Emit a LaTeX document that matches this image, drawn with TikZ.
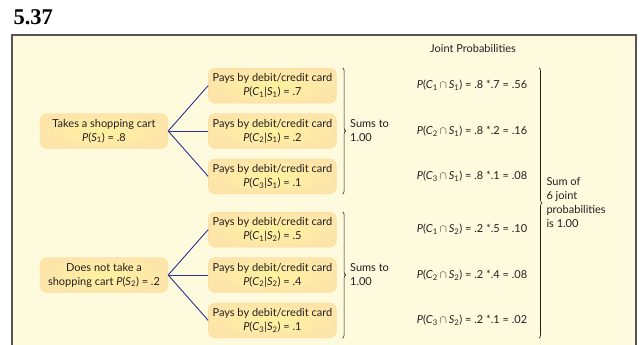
\documentclass[tikz,border=0pt]{standalone}
\usepackage{fontspec}
\setmainfont{Lato}
\newfontfamily\titlefont{Liberation Serif}
\usetikzlibrary{positioning, calc, decorations.pathreplacing}
\definecolor{panelfill}{RGB}{254,250,222}
\definecolor{panelline}{RGB}{85,85,85}
\definecolor{boxinner}{RGB}{255,242,158}
\definecolor{boxouter}{RGB}{253,229,170}
\definecolor{boxline}{RGB}{249,222,152}
\definecolor{branchblue}{RGB}{46,49,146}
\definecolor{inktext}{RGB}{35,31,32}
\newcommand{\pcond}[2]{\textit{P}(\textit{C}\textsubscript{#1}|\textit{S}\textsubscript{#2})}
\newcommand{\pjoint}[2]{\textit{P}(\textit{C}\textsubscript{#1}\,$\cap$\,\textit{S}\textsubscript{#2})}

\begin{document}
\begin{tikzpicture}[
		x=1pt, y=-1pt,
		font=\fontsize{11}{14}\selectfont, text=inktext,
		choicebox/.style={draw=boxline, rounded corners=7pt, shade, inner color=boxinner, outer color=boxouter, minimum width=128pt, minimum height=35pt, align=center, inner sep=2pt},
		branch/.style={draw=branchblue, line width=0.9pt},
		sumbrace/.style={draw=inktext, line width=0.6pt, decorate, decoration={brace, amplitude=3pt}},
		sumtext/.style={anchor=west, align=left},
		joint/.style={anchor=center}
	]
	\useasboundingbox (0,0) rectangle (642,345);
	\node[anchor=base west, font=\titlefont\bfseries\fontsize{22.5}{22.5}\selectfont, text=black] (title) at (10,25) {5.37};
	\filldraw[fill=panelfill, draw=panelline, line width=1.4pt] (12,35) rectangle (636,348);
	\node (head) at (473,48) {Joint Probabilities};
	% first stage
	\node[choicebox] (s1) at (104,131) {Takes a shopping cart\\\textit{P}(\textit{S}\textsubscript{1}) = .8};
	\node[choicebox] (s2) at (104,275) {Does not take a\\shopping cart \textit{P}(\textit{S}\textsubscript{2}) = .2};
	% second stage
	\node[choicebox, right=40pt of s1] (c21) {Pays by debit/credit card\\\pcond{2}{1} = .2};
	\node[choicebox, above=10pt of c21] (c11) {Pays by debit/credit card\\\pcond{1}{1} = .7};
	\node[choicebox, below=10pt of c21] (c31) {Pays by debit/credit card\\\pcond{3}{1} = .1};
	\node[choicebox, right=40pt of s2] (c22) {Pays by debit/credit card\\\pcond{2}{2} = .4};
	\node[choicebox, above=10pt of c22] (c12) {Pays by debit/credit card\\\pcond{1}{2} = .5};
	\node[choicebox, below=10pt of c22] (c32) {Pays by debit/credit card\\\pcond{3}{2} = .1};
	\foreach \c in {1,2,3} {
		\draw[branch] (s1.east) -- (c\c1.west);
		\draw[branch] (s2.east) -- (c\c2.west);
	}
	% joint probabilities
	\node[joint] (j11) at (c11 -| 472,0) {\pjoint{1}{1} = .8 *.7 = .56};
	\node[joint] (j21) at (c21 -| 472,0) {\pjoint{2}{1} = .8 *.2 = .16};
	\node[joint] (j31) at (c31 -| 472,0) {\pjoint{3}{1} = .8 *.1 = .08};
	\node[joint] (j12) at (c12 -| 472,0) {\pjoint{1}{2} = .2 *.5 = .10};
	\node[joint] (j22) at (c22 -| 472,0) {\pjoint{2}{2} = .2 *.4 = .08};
	\node[joint] (j32) at (c32 -| 472,0) {\pjoint{3}{2} = .2 *.1 = .02};
	% braces
	\draw[sumbrace] ([xshift=6pt]c11.north east) -- ([xshift=6pt]c31.south east);
	\draw[sumbrace] ([xshift=6pt]c12.north east) -- ([xshift=6pt]c32.south east);
	\coordinate (btop) at (c11.north -| 539,0);
	\coordinate (bbot) at (c32.south -| 539,0);
	\draw[sumbrace] (btop) -- (bbot);
	\node[sumtext] (sum1) at ([xshift=10pt]c21.east) {Sums to\\1.00};
	\node[sumtext] (sum2) at ([xshift=10pt]c22.east) {Sums to\\1.00};
	\node[sumtext] (total) at ($(btop)!0.5!(bbot)+(4,0)$) {Sum of\\6 joint\\probabilities\\is 1.00};
\end{tikzpicture}
\end{document}
